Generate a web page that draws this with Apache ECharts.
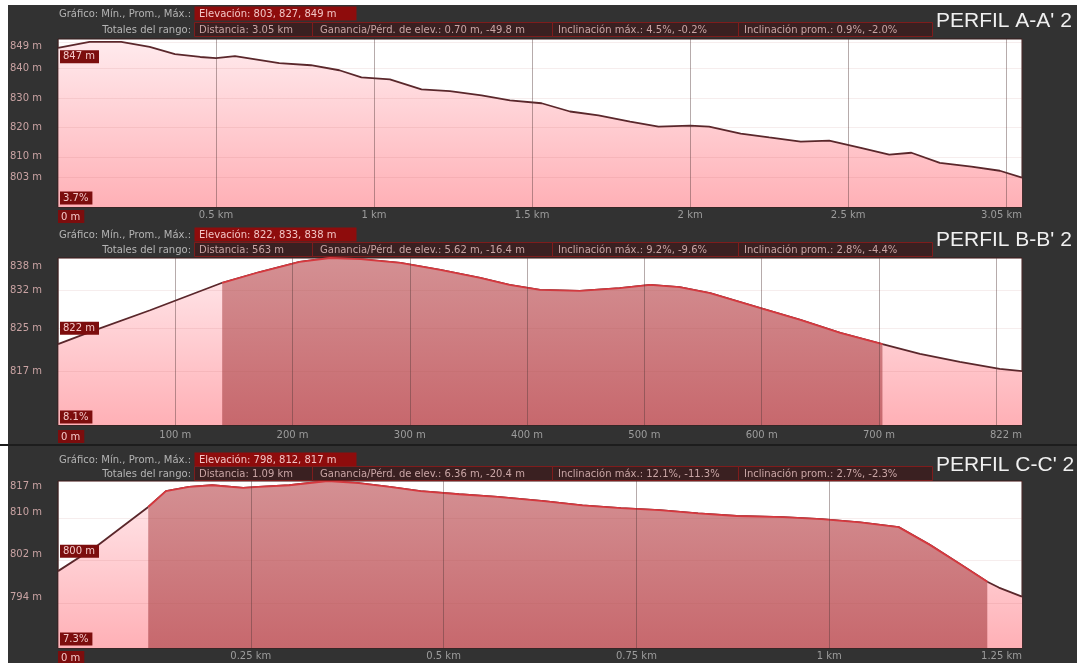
<!DOCTYPE html>
<html>
<head>
<meta charset="utf-8">
<script src="https://cdn.jsdelivr.net/npm/echarts@6/dist/echarts.min.js"></script>
<style>
  html, body { margin: 0; padding: 0; background: #ffffff; }
  #c { width: 1077px; height: 666px; }
</style>
</head>
<body>
<div id="c"></div>
<script>
// ---- Perfil A-A' 2 : distancia (km) / elevación (m)
const distA = [0, 0.10, 0.20, 0.29, 0.37, 0.45, 0.50, 0.56, 0.62, 0.70, 0.80, 0.89, 0.96, 1.05, 1.15, 1.24, 1.34, 1.43, 1.53, 1.62,
               1.71, 1.81, 1.90, 2.00, 2.06, 2.16, 2.25, 2.35, 2.44, 2.54, 2.63, 2.70, 2.79, 2.89, 2.98, 3.05];
const elevA = [847, 849, 849, 847.3, 844.9, 843.9, 843.5, 844.2, 843.2, 841.8, 841.1, 839.4, 837.0, 836.3, 832.9, 832.3, 830.9, 829.2, 828.2, 825.4,
               824.1, 822.0, 820.3, 820.6, 820.3, 817.9, 816.6, 815.2, 815.5, 813.1, 810.8, 811.4, 808.0, 806.7, 805.3, 803];
const yTicksA = [849, 840, 830, 820, 810, 803];
const headerA = ['Elevación: 803, 827, 849 m', 'Distancia: 3.05 km', 'Ganancia/Pérd. de elev.: 0.70 m, -49.8 m',
                 'Inclinación máx.: 4.5%, -0.2%', 'Inclinación prom.: 0.9%, -2.0%'];

// ---- Perfil B-B' 2 : distancia (m) / elevación (m)
const distB = [0, 31.5, 78.5, 140, 172, 206, 232, 258, 292, 326, 360, 385, 411, 445, 479, 505, 530, 556, 599, 633,
               667, 703, 735, 769, 803, 822];
const elevB = [822, 824.6, 828.3, 833.4, 835.4, 837.3, 838, 837.8, 837.1, 835.8, 834.3, 833.0, 832.1, 831.9, 832.4, 833.0, 832.6, 831.5, 828.7, 826.5,
               824.1, 822, 820.2, 818.7, 817.4, 817];
const rangeB = [140, 703];
const yTicksB = [838, 832, 825, 817];
const headerB = ['Elevación: 822, 833, 838 m', 'Distancia: 563 m', 'Ganancia/Pérd. de elev.: 5.62 m, -16.4 m',
                 'Inclinación máx.: 9.2%, -9.6%', 'Inclinación prom.: 2.8%, -4.4%'];

// ---- Perfil C-C' 2 : distancia (km) / elevación (m)
const distC = [0, 0.05, 0.117, 0.14, 0.17, 0.20, 0.24, 0.26, 0.30, 0.35, 0.39, 0.43, 0.47, 0.52, 0.57, 0.63, 0.68, 0.73, 0.78, 0.83,
               0.88, 0.94, 0.99, 1.04, 1.09, 1.13, 1.17, 1.205, 1.22, 1.25];
const elevC = [800, 804.7, 812.1, 815.1, 815.9, 816.2, 815.7, 815.9, 816.2, 817, 816.6, 815.9, 815.1, 814.5, 814.0, 813.2, 812.4, 811.9, 811.5, 810.9,
               810.4, 810.2, 809.8, 809.2, 808.3, 805.0, 801.3, 798, 796.9, 795.2];
const rangeC = [0.117, 1.205];
const yTicksC = [817, 810, 802, 794];
const headerC = ['Elevación: 798, 812, 817 m', 'Distancia: 1.09 km', 'Ganancia/Pérd. de elev.: 6.36 m, -20.4 m',
                 'Inclinación máx.: 12.1%, -11.3%', 'Inclinación prom.: 2.7%, -2.3%'];

const titles = ["PERFIL A-A' 2", "PERFIL B-B' 2", "PERFIL C-C' 2"];
const slopeLabels = ['3.7%', '8.1%', '7.3%'];
const rowLabels = ['Gráfico: Mín., Prom., Máx.:', 'Totales del rango:'];

const panels = [
  { dist: distA, elev: elevA, range: null,   ticks: yTicksA, header: headerA, xMax: 3.05, xStep: 0.5,  unit: 'km', yMin: 793,   yMax: 850 },
  { dist: distB, elev: elevB, range: rangeB, ticks: yTicksB, header: headerB, xMax: 822,  xStep: 100,  unit: 'm',  yMin: 807,   yMax: 838 },
  { dist: distC, elev: elevC, range: rangeC, ticks: yTicksC, header: headerC, xMax: 1.25, xStep: 0.25, unit: 'km', yMin: 785.5, yMax: 817 }
];

// ---- layout of the three stacked profiles
const GRID_LEFT = 58, GRID_WIDTH = 964;
const layout = [
  { top: 39,  height: 168, row1: 14,  row2: 30,  titleY: 21,  labelMargin: 3, startDy: 9,   slopeY: 198, topPad: 8,  yShift: 0 },
  { top: 258, height: 167, row1: 235, row2: 250, titleY: 240, labelMargin: 5, startDy: -16, slopeY: 417, topPad: 16, yShift: 0 },
  { top: 481, height: 167, row1: 460, row2: 474, titleY: 465, labelMargin: 3, startDy: -20, slopeY: 639, topPad: 10, yShift: 12 }
];
const cellX = [[194, 312], [312, 552], [552, 738], [738, 932]];
const cellTextX = [199, 320, 558, 744];

const FONT = '"DejaVu Sans", sans-serif';
const SMALL = '10px ' + FONT;

const lightFill = () => new echarts.graphic.LinearGradient(0, 0, 0, 1, [
  { offset: 0, color: '#ffeaed' }, { offset: 1, color: '#ffb0b6' }]);
const darkFill = () => new echarts.graphic.LinearGradient(0, 0, 0, 1, [
  { offset: 0, color: '#d49093' }, { offset: 1, color: '#c7686d' }]);

const num = v => String(+v.toFixed(3));

const grids = [], xAxes = [], yAxes = [], series = [];
panels.forEach((p, i) => {
  const L = layout[i];
  grids.push({
    left: GRID_LEFT, width: GRID_WIDTH, top: L.top, height: L.height,
    show: true, backgroundColor: '#ffffff', borderColor: '#3a1b1b', borderWidth: 1
  });
  xAxes.push({
    gridIndex: i, type: 'value', min: 0, max: p.xMax, interval: p.xStep, z: 3,
    axisLine: { show: false }, axisTick: { show: false },
    splitLine: { show: true, lineStyle: { color: 'rgba(80,55,55,0.42)', width: 1 } },
    axisLabel: {
      margin: L.labelMargin, color: '#9c9c9c', fontFamily: FONT, fontSize: 10,
      alignMinLabel: 'left', alignMaxLabel: 'right',
      formatter: v => {
        if (v === 0) return '{z|0 m}';
        if (v !== p.xMax && p.xMax - v < p.xStep / 2) return '';
        return num(v) + ' ' + p.unit;
      },
      rich: { z: { backgroundColor: '#7c0d0d', color: '#f3c8c8', padding: [2, 4, 1, 3], fontFamily: FONT, fontSize: 10 } }
    }
  });
  const tickStyle = { color: '#c9a3a3', fontFamily: FONT, fontSize: 10 };
  yAxes.push({
    gridIndex: i, type: 'value', min: p.yMin, max: p.yMax, z: 3,
    axisLine: { show: false },
    axisTick: { show: false, customValues: p.ticks },
    splitLine: { show: true, lineStyle: { color: 'rgba(170,80,80,0.10)' } },
    axisLabel: {
      customValues: p.ticks, align: 'left', margin: 48,
      formatter: v => (v === p.ticks[0] ? '{top|' : '{reg|') + v + ' m}',
      rich: {
        top: Object.assign({ padding: [L.topPad, 0, 0, 0] }, tickStyle),
        reg: Object.assign({ padding: [0, 0, L.yShift, 0] }, tickStyle)
      }
    }
  });
  const pts = p.dist.map((d, k) => [d, p.elev[k]]);
  series.push({
    type: 'line', xAxisIndex: i, yAxisIndex: i, data: pts, symbol: 'none', silent: true, z: 2,
    lineStyle: { color: '#5a272b', width: 1.8 },
    areaStyle: { origin: 'start', opacity: 1, color: lightFill() }
  });
  if (p.range) {
    series.push({
      type: 'line', xAxisIndex: i, yAxisIndex: i, symbol: 'none', silent: true, z: 2.5,
      data: pts.filter(q => q[0] >= p.range[0] && q[0] <= p.range[1]),
      lineStyle: { color: '#d5383e', width: 1.8 },
      areaStyle: { origin: 'start', opacity: 1, color: darkFill() }
    });
  }
});

const chart = echarts.init(document.getElementById('c'), null, { renderer: 'canvas' });
chart.setOption({
  backgroundColor: '#323232',
  animation: false,
  grid: grids, xAxis: xAxes, yAxis: yAxes, series: series
});

// ---- header strips, titles and value boxes
function text(x, y, s, extra) {
  return { type: 'text', x: x, y: y, silent: true, z: 20,
    style: Object.assign({ text: s, fill: '#b4b4b4', font: SMALL, align: 'left', verticalAlign: 'middle' }, extra || {}) };
}
function rect(x, y, w, h, fill, stroke) {
  return { type: 'rect', silent: true, z: 19, shape: { x: x, y: y, width: w, height: h },
    style: { fill: fill, stroke: stroke || null, lineWidth: stroke ? 1 : 0 } };
}
const boxStyle = { backgroundColor: '#7c0d0d', fill: '#f3c8c8', padding: [2, 4, 1, 3] };

const gfx = [
  rect(0, 0, 1077, 5, '#ffffff'),
  rect(0, 0, 8, 666, '#ffffff'),
  rect(0, 663, 1077, 3, '#ffffff'),
  rect(0, 444, 1077, 2, '#1d1d1d')
];
panels.forEach((p, i) => {
  const L = layout[i];
  gfx.push(text(191, L.row1, rowLabels[0], { align: 'right' }));
  gfx.push(rect(194.5, L.row1 - 7.5, 162, 14, '#8e0c0c'));
  gfx.push(text(199, L.row1, p.header[0], { fill: '#f2c4c4' }));
  gfx.push(text(191, L.row2, rowLabels[1], { align: 'right' }));
  cellX.forEach((c, k) => {
    gfx.push(rect(c[0] + 0.5, L.row2 - 7.5, c[1] - c[0], 14, '#3a2021', '#7e1c1c'));
    gfx.push(text(cellTextX[k], L.row2, p.header[k + 1], { fill: '#c9a5a5' }));
  });
  gfx.push(text(936, L.titleY, titles[i], { fill: '#f0f0f0', font: '21px "Liberation Sans", Arial, sans-serif' }));
  gfx.push(text(60, L.slopeY, slopeLabels[i], boxStyle));
  const pt = chart.convertToPixel({ gridIndex: i }, [p.dist[0], p.elev[0]]);
  gfx.push(text(60, pt[1] + L.startDy, p.elev[0] + ' m', boxStyle));
});
chart.setOption({ graphic: { elements: gfx } });
</script>
</body>
</html>
